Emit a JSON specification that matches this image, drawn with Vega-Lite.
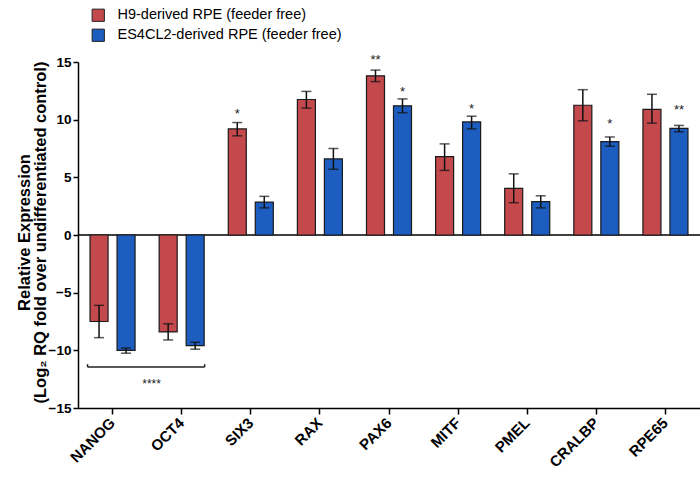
{
  "$schema": "https://vega.github.io/schema/vega-lite/v6.json",
  "width": 622,
  "height": 346,
  "autosize": {"type": "none"},
  "padding": {"left": 78, "top": 62, "right": 0, "bottom": 73},
  "background": "white",
  "config": {
    "view": {"stroke": null},
    "font": "Liberation Sans",
    "axis": {
      "grid": false,
      "domainColor": "black",
      "tickColor": "black",
      "domainWidth": 1.5,
      "tickWidth": 1.5,
      "labelColor": "black",
      "labelFont": "Liberation Sans",
      "labelFontWeight": "bold",
      "labelFontSize": 13.5,
      "titleFont": "Liberation Sans",
      "titleColor": "black"
    }
  },
  "datasets": {
    "bars": [
      {"gene": "NANOG", "group": "H9-derived RPE (feeder free)", "mean": -7.5, "lo": -8.9, "hi": -6.1},
      {"gene": "NANOG", "group": "ES4CL2-derived RPE (feeder free)", "mean": -10.0, "lo": -10.25, "hi": -9.8},
      {"gene": "OCT4", "group": "H9-derived RPE (feeder free)", "mean": -8.4, "lo": -9.1, "hi": -7.7},
      {"gene": "OCT4", "group": "ES4CL2-derived RPE (feeder free)", "mean": -9.6, "lo": -9.9, "hi": -9.3},
      {"gene": "SIX3", "group": "H9-derived RPE (feeder free)", "mean": 9.2, "lo": 8.6, "hi": 9.75},
      {"gene": "SIX3", "group": "ES4CL2-derived RPE (feeder free)", "mean": 2.85, "lo": 2.35, "hi": 3.35},
      {"gene": "RAX", "group": "H9-derived RPE (feeder free)", "mean": 11.75, "lo": 11.0, "hi": 12.45},
      {"gene": "RAX", "group": "ES4CL2-derived RPE (feeder free)", "mean": 6.6, "lo": 5.7, "hi": 7.5},
      {"gene": "PAX6", "group": "H9-derived RPE (feeder free)", "mean": 13.8, "lo": 13.3, "hi": 14.3},
      {"gene": "PAX6", "group": "ES4CL2-derived RPE (feeder free)", "mean": 11.2, "lo": 10.6, "hi": 11.8},
      {"gene": "MITF", "group": "H9-derived RPE (feeder free)", "mean": 6.8, "lo": 5.6, "hi": 7.9},
      {"gene": "MITF", "group": "ES4CL2-derived RPE (feeder free)", "mean": 9.8, "lo": 9.2, "hi": 10.3},
      {"gene": "PMEL", "group": "H9-derived RPE (feeder free)", "mean": 4.05, "lo": 2.8, "hi": 5.3},
      {"gene": "PMEL", "group": "ES4CL2-derived RPE (feeder free)", "mean": 2.9, "lo": 2.35, "hi": 3.4},
      {"gene": "CRALBP", "group": "H9-derived RPE (feeder free)", "mean": 11.25, "lo": 9.9, "hi": 12.6},
      {"gene": "CRALBP", "group": "ES4CL2-derived RPE (feeder free)", "mean": 8.1, "lo": 7.7, "hi": 8.5},
      {"gene": "RPE65", "group": "H9-derived RPE (feeder free)", "mean": 10.9, "lo": 9.7, "hi": 12.2},
      {"gene": "RPE65", "group": "ES4CL2-derived RPE (feeder free)", "mean": 9.25, "lo": 8.95, "hi": 9.5}
    ],
    "sig": [
      {"gene": "SIX3", "group": "H9-derived RPE (feeder free)", "label": "*", "pos": 10.75},
      {"gene": "PAX6", "group": "H9-derived RPE (feeder free)", "label": "**", "pos": 15.4},
      {"gene": "PAX6", "group": "ES4CL2-derived RPE (feeder free)", "label": "*", "pos": 12.65},
      {"gene": "MITF", "group": "ES4CL2-derived RPE (feeder free)", "label": "*", "pos": 11.2},
      {"gene": "CRALBP", "group": "ES4CL2-derived RPE (feeder free)", "label": "*", "pos": 9.9},
      {"gene": "RPE65", "group": "ES4CL2-derived RPE (feeder free)", "label": "**", "pos": 11.1}
    ],
    "bracket": [
      {"from": "NANOG", "to": "OCT4", "y": -11.45, "ytop": -11.2, "label": "****", "ylab": -12.7}
    ]
  },
  "encoding": {
    "x": {
      "field": "gene",
      "type": "nominal",
      "scale": {"domain": ["NANOG", "OCT4", "SIX3", "RAX", "PAX6", "MITF", "PMEL", "CRALBP", "RPE65"], "paddingInner": 0, "paddingOuter": 0},
      "axis": {"title": null, "labelAngle": -45, "labelAlign": "right", "labelBaseline": "middle", "tickSize": 6, "labelPadding": 6, "labelFontSize": 15}
    }
  },
  "layer": [
    {
      "data": {"values": [{"z": 0}]},
      "mark": {"type": "rule", "color": "black", "strokeWidth": 1.5},
      "encoding": {"x": null, "y": {"field": "z", "type": "quantitative"}}
    },
    {
      "data": {"name": "bars"},
      "mark": {"type": "bar", "stroke": "#1a1a1a", "strokeWidth": 1.2},
      "encoding": {
        "xOffset": {"field": "group", "type": "nominal", "sort": ["H9-derived RPE (feeder free)", "ES4CL2-derived RPE (feeder free)"], "scale": {"paddingInner": 0.333, "paddingOuter": 0.446}},
        "y": {
          "field": "mean",
          "type": "quantitative",
          "scale": {"domain": [-15, 15], "nice": false},
          "axis": {
            "values": [-15, -10, -5, 0, 5, 10, 15],
            "tickSize": 5,
            "title": ["Relative Expression", "(Log₂ RQ fold over undifferentiated control)"],
            "titleFontSize": 16.5,
            "titleFontWeight": "bold",
            "titleLineHeight": 16,
            "titleX": -62,
            "titleY": 170,
            "titleAlign": "center",
            "titleBaseline": "top",
            "titleAngle": -90
          }
        },
        "color": {
          "field": "group",
          "type": "nominal",
          "sort": ["H9-derived RPE (feeder free)", "ES4CL2-derived RPE (feeder free)"],
          "scale": {"range": ["#c3494d", "#1d5dbf"]},
          "legend": {
            "title": null,
            "orient": "none",
            "legendX": 13,
            "legendY": -54,
            "symbolType": "square",
            "symbolSize": 150,
            "symbolStrokeColor": "#222",
            "symbolStrokeWidth": 1,
            "labelFont": "Liberation Sans",
            "labelFontSize": 14.5,
            "labelLimit": 400,
            "labelColor": "black",
            "rowPadding": 3,
            "labelOffset": 12
          }
        }
      }
    },
    {
      "data": {"name": "bars"},
      "mark": {"type": "rule", "color": "#111", "strokeWidth": 1.5},
      "encoding": {
        "xOffset": {"field": "group", "type": "nominal", "sort": ["H9-derived RPE (feeder free)", "ES4CL2-derived RPE (feeder free)"]},
        "y": {"field": "lo", "type": "quantitative"},
        "y2": {"field": "hi"}
      }
    },
    {
      "data": {"name": "bars"},
      "mark": {"type": "tick", "color": "#111", "thickness": 1.5, "size": 10},
      "encoding": {
        "xOffset": {"field": "group", "type": "nominal", "sort": ["H9-derived RPE (feeder free)", "ES4CL2-derived RPE (feeder free)"]},
        "y": {"field": "lo", "type": "quantitative"}
      }
    },
    {
      "data": {"name": "bars"},
      "mark": {"type": "tick", "color": "#111", "thickness": 1.5, "size": 10},
      "encoding": {
        "xOffset": {"field": "group", "type": "nominal", "sort": ["H9-derived RPE (feeder free)", "ES4CL2-derived RPE (feeder free)"]},
        "y": {"field": "hi", "type": "quantitative"}
      }
    },
    {
      "data": {"name": "sig"},
      "mark": {"type": "text", "font": "Liberation Sans", "fontSize": 13, "color": "#222", "baseline": "middle", "dy": 3},
      "encoding": {
        "xOffset": {"field": "group", "type": "nominal", "sort": ["H9-derived RPE (feeder free)", "ES4CL2-derived RPE (feeder free)"]},
        "y": {"field": "pos", "type": "quantitative"},
        "text": {"field": "label"}
      }
    },
    {
      "data": {"name": "bracket"},
      "mark": {"type": "rule", "color": "#222", "strokeWidth": 1.5, "xOffset": -25, "x2Offset": 23},
      "encoding": {
        "x": {"field": "from", "type": "nominal"},
        "x2": {"field": "to"},
        "y": {"field": "y", "type": "quantitative"}
      }
    },
    {
      "data": {"name": "bracket"},
      "mark": {"type": "rule", "color": "#222", "strokeWidth": 1.5, "xOffset": -25},
      "encoding": {
        "x": {"field": "from", "type": "nominal"},
        "y": {"field": "y", "type": "quantitative"},
        "y2": {"field": "ytop"}
      }
    },
    {
      "data": {"name": "bracket"},
      "mark": {"type": "rule", "color": "#222", "strokeWidth": 1.5, "xOffset": 23},
      "encoding": {
        "x": {"field": "to", "type": "nominal"},
        "y": {"field": "y", "type": "quantitative"},
        "y2": {"field": "ytop"}
      }
    },
    {
      "data": {"name": "bracket"},
      "mark": {"type": "text", "font": "Liberation Sans", "fontSize": 12, "color": "#222", "baseline": "middle", "dx": 39, "dy": 3},
      "encoding": {
        "x": {"field": "from", "type": "nominal"},
        "y": {"field": "ylab", "type": "quantitative"},
        "text": {"field": "label"}
      }
    }
  ]
}
